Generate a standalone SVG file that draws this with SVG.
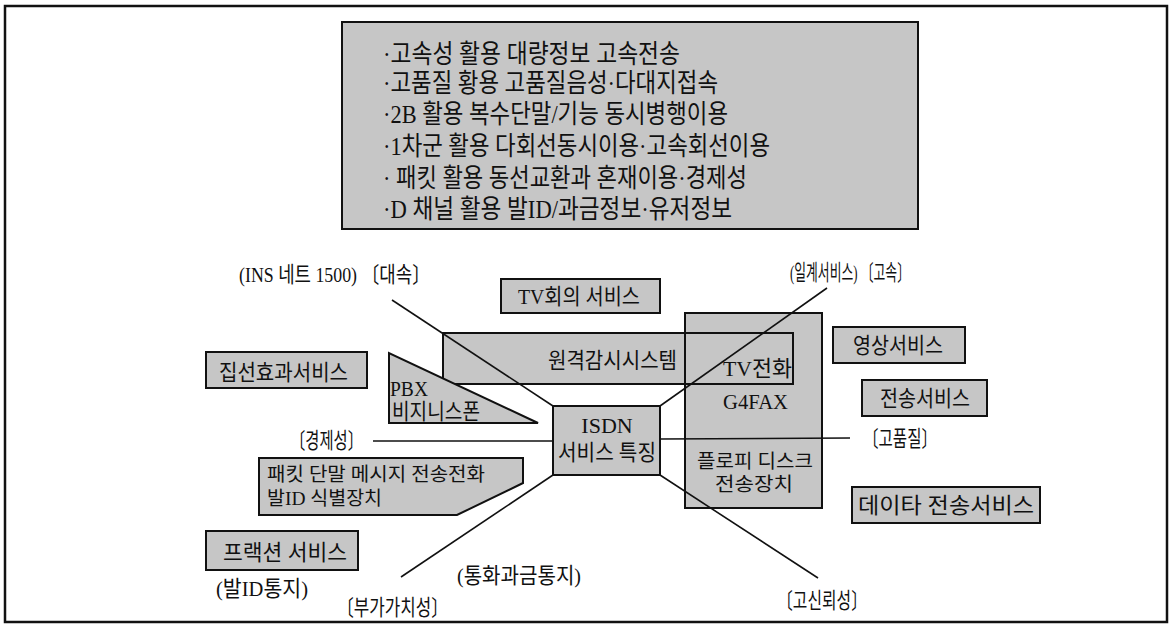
<svg xmlns="http://www.w3.org/2000/svg" width="1172" height="625" viewBox="0 0 1172 625">
<style>
text{font-family:"Liberation Serif","Noto Sans CJK KR",serif;fill:#111;dominant-baseline:central}
.t{font-size:26px}
.m{font-size:22px}
.s{font-size:19px}
.box{fill:#c6c6c6;stroke:#111;stroke-width:2}
.ol{fill:none;stroke:#111;stroke-width:2}
.ln{stroke:#111;stroke-width:1.6;fill:none}
</style>
<rect x="5" y="6" width="1162" height="616" fill="#fff" stroke="#111" stroke-width="2.5"/>
<g id="features">
<rect class="box" x="342" y="22" width="576" height="207"/>
<text class="t" x="383" y="54" textLength="297" lengthAdjust="spacingAndGlyphs">·고속성 활용 대량정보 고속전송</text>
<text class="t" x="383" y="83" textLength="335" lengthAdjust="spacingAndGlyphs">·고품질 황용 고품질음성·다대지접속</text>
<text class="t" x="383" y="114" textLength="345" lengthAdjust="spacingAndGlyphs">·2B 활용 복수단말/기능 동시병행이용</text>
<text class="t" x="383" y="146" textLength="387" lengthAdjust="spacingAndGlyphs">·1차군 활용 다회선동시이용·고속회선이용</text>
<text class="t" x="383" y="178" textLength="364" lengthAdjust="spacingAndGlyphs">· 패킷 활용 동선교환과 혼재이용·경제성</text>
<text class="t" x="383" y="209" textLength="349" lengthAdjust="spacingAndGlyphs">·D 채널 활용 발ID/과금정보·유저정보</text>
</g>
<g id="tvconf">
<rect class="box" x="501" y="279" width="159" height="34"/>
<text class="m" x="518" y="296" textLength="122" lengthAdjust="spacingAndGlyphs">TV회의 서비스</text>
</g>
<g id="tallbox">
<rect class="box" x="685" y="313" width="137" height="195"/>
</g>
<g id="remote">
<rect class="box" x="443" y="333" width="350" height="51"/>
<text class="m" x="548" y="360" textLength="129" lengthAdjust="spacingAndGlyphs">원격감시시스템</text>
<text class="m" x="723" y="368" textLength="69" lengthAdjust="spacingAndGlyphs">TV전화</text>
</g>
<g id="tallbox-text">
<rect class="ol" x="685" y="313" width="137" height="195"/>
<text class="m" x="723" y="401" textLength="65" lengthAdjust="spacingAndGlyphs">G4FAX</text>
<text class="s" x="697" y="461" textLength="116" lengthAdjust="spacingAndGlyphs">플로피 디스크</text>
<text class="s" x="715" y="484" textLength="78" lengthAdjust="spacingAndGlyphs">전송장치</text>
</g>
<g id="concentration">
<rect class="box" x="206" y="352" width="161" height="36"/>
<text class="m" x="219" y="372" textLength="129" lengthAdjust="spacingAndGlyphs">집선효과서비스</text>
</g>
<g id="pbx">
<polygon class="box" points="389,353 389,423 538,423"/>
<text class="m" x="390" y="388" textLength="38" lengthAdjust="spacingAndGlyphs">PBX</text>
<text class="m" x="392" y="411" textLength="88" lengthAdjust="spacingAndGlyphs">비지니스폰</text>
</g>
<g id="packet">
<polygon class="box" points="259,458 523,458 523,483 457,515 259,515"/>
<text class="s" x="267" y="474" textLength="218" lengthAdjust="spacingAndGlyphs">패킷 단말 메시지 전송전화</text>
<text class="s" x="267" y="498" textLength="115" lengthAdjust="spacingAndGlyphs">발ID 식별장치</text>
</g>
<g id="fraction">
<rect class="box" x="206" y="531" width="152" height="39"/>
<text class="m" x="223" y="552" textLength="124" lengthAdjust="spacingAndGlyphs">프랙션 서비스</text>
</g>
<g id="video">
<rect class="box" x="833" y="327" width="132" height="36"/>
<text class="m" x="853" y="345" textLength="90" lengthAdjust="spacingAndGlyphs">영상서비스</text>
</g>
<g id="transfer">
<rect class="box" x="862" y="380" width="125" height="36"/>
<text class="m" x="880" y="398" textLength="90" lengthAdjust="spacingAndGlyphs">전송서비스</text>
</g>
<g id="data">
<rect class="box" x="852" y="487" width="188" height="36"/>
<text class="m" x="858" y="505" textLength="176" lengthAdjust="spacingAndGlyphs">데이타 전송서비스</text>
</g>
<g id="connectors">
<line class="ln" x1="392" y1="300" x2="553" y2="406"/>
<line class="ln" x1="660" y1="406" x2="827" y2="288"/>
<line class="ln" x1="373" y1="441" x2="553" y2="441"/>
<line class="ln" x1="660" y1="439" x2="850" y2="438"/>
<line class="ln" x1="553" y1="475" x2="401" y2="577"/>
<line class="ln" x1="660" y1="475" x2="818" y2="578"/>
</g>
<g id="isdn">
<rect class="box" x="553" y="406" width="107" height="69"/>
<text class="m" x="607" y="425" text-anchor="middle">ISDN</text>
<text class="m" x="558" y="452" textLength="98" lengthAdjust="spacingAndGlyphs">서비스 특징</text>
</g>
<g id="labels">
<text class="m" x="239" y="274" textLength="191" lengthAdjust="spacingAndGlyphs">(INS 네트 1500) 〔대속〕</text>
<text class="m" x="790" y="272" textLength="120" lengthAdjust="spacingAndGlyphs">(일계서비스) 〔고속〕</text>
<text class="m" x="290" y="440" textLength="73" lengthAdjust="spacingAndGlyphs">〔경제성〕</text>
<text class="m" x="863" y="438" textLength="74" lengthAdjust="spacingAndGlyphs">〔고품질〕</text>
<text class="m" x="216" y="588" textLength="92" lengthAdjust="spacingAndGlyphs">(발ID통지)</text>
<text class="m" x="337" y="607" textLength="111" lengthAdjust="spacingAndGlyphs">〔부가가치성〕</text>
<text class="m" x="457" y="575" textLength="124" lengthAdjust="spacingAndGlyphs">(통화과금통지)</text>
<text class="m" x="777" y="600" textLength="90" lengthAdjust="spacingAndGlyphs">〔고신뢰성〕</text>
</g>
</svg>
